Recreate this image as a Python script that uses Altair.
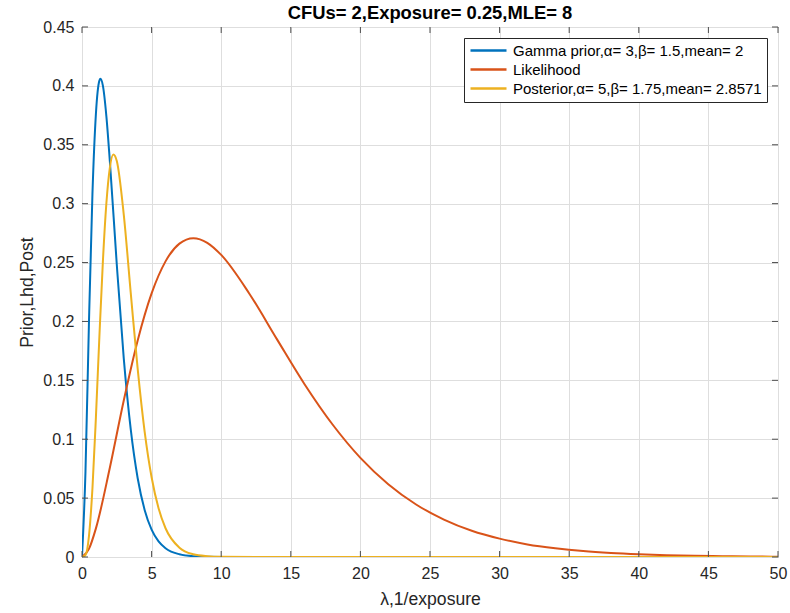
import altair as alt
import pandas as pd

# ---- data ----
prior_x = [0, 0.25, 0.5, 0.75, 1, 1.25, 1.33, 1.5, 1.75, 2, 2.5, 3, 3.5, 4, 4.5, 5, 5.5, 6, 7, 8, 10, 15, 20, 30, 40, 50]
prior_y = [0, 0.0725, 0.1993, 0.3082, 0.3765, 0.4045, 0.4060, 0.4002, 0.3744, 0.3361, 0.2481, 0.1687, 0.1085,
           0.0669, 0.0400, 0.0233, 0.0133, 0.0075, 0.0023, 0.0007, 0.00005, 0, 0, 0, 0, 0]

lik_x = [0, 0.5, 1, 2, 3, 4, 5, 6, 7, 8, 9, 10, 12, 14, 16, 18, 20, 22, 24, 26, 28, 30, 32, 34, 36, 38, 40,
         42, 44, 46, 48, 50]
lik_y = [0, 0.0069, 0.0243, 0.0758, 0.1329, 0.1839, 0.2238, 0.2510, 0.2661, 0.2707, 0.2668, 0.2565, 0.2240,
         0.1850, 0.1465, 0.1125, 0.0842, 0.0618, 0.0446, 0.0318, 0.0223, 0.0156, 0.0107, 0.0074, 0.0050,
         0.0034, 0.0023, 0.0015, 0.0010, 0.0007, 0.0004, 0.0003]

post_x = [0, 0.25, 0.5, 0.75, 1, 1.25, 1.5, 1.75, 2, 2.25, 2.5, 3, 3.5, 4, 4.5, 5, 5.5, 6, 7, 8, 9, 10, 15, 20,
          30, 40, 50]
post_y = [0, 0.0017, 0.0178, 0.0582, 0.1188, 0.1874, 0.2508, 0.3001, 0.3304, 0.3417, 0.3363, 0.2907, 0.2245,
          0.1597, 0.1065, 0.0677, 0.0413, 0.0244, 0.0079, 0.0023, 0.0007, 0.0002, 0, 0, 0, 0, 0]

series_names = ["Gamma prior,α= 3,β= 1.5,mean= 2", "Likelihood", "Posterior,α= 5,β= 1.75,mean= 2.8571"]
series_colors = ["#0072BD", "#D95319", "#EDB120"]

x_ticks = [0, 5, 10, 15, 20, 25, 30, 35, 40, 45, 50]
y_ticks = [0, 0.05, 0.1, 0.15, 0.2, 0.25, 0.3, 0.35, 0.4, 0.45]

title_text = "CFUs= 2,Exposure= 0.25,MLE= 8"
x_title = "λ,1/exposure"
y_title = "Prior,Lhd,Post"

# ---- build ----
W, H = 696, 530
FONT = "Liberation Sans"

frames = []
for name, xs, ys in zip(series_names, [prior_x, lik_x, post_x], [prior_y, lik_y, post_y]):
    frames.append(pd.DataFrame({"x": xs, "y": ys, "series": name}))

xscale = alt.Scale(domain=[0, 50], nice=False, zero=False)
yscale = alt.Scale(domain=[0, 0.45], nice=False)
color = alt.Color("series:N",
                  scale=alt.Scale(domain=series_names, range=series_colors),
                  sort=series_names,
                  legend=alt.Legend(title=None, orient="top-right", offset=11))

xaxis = alt.Axis(values=x_ticks, format="d", title=x_title, grid=True, ticks=False, domain=False,
                 labelPadding=8, titlePadding=9, labelFlush=False, labelOverlap=False)
yaxis = alt.Axis(values=y_ticks, format="~g", title=y_title, grid=True, ticks=False, domain=False,
                 labelPadding=8, titlePadding=6, labelFlush=False, labelOverlap=False)


def X(field):
    return alt.X(field, scale=xscale, axis=xaxis, title=x_title)


def Y(field):
    return alt.Y(field, scale=yscale, axis=yaxis, title=y_title)


layers = []
for df in frames:
    layers.append(
        alt.Chart(df).mark_line(strokeWidth=2, interpolate="monotone", clip=True).encode(
            x=X("x:Q"), y=Y("y:Q"), color=color,
        )
    )

xt = pd.DataFrame({"v": x_ticks})
yt = pd.DataFrame({"v": y_ticks})
TL = 6
tick_style = dict(color="#4d4d4d", strokeWidth=1)
ticks = [
    alt.Chart(xt).mark_rule(**tick_style).encode(x=X("v:Q"), y=alt.value(H), y2=alt.value(H - TL)),
    alt.Chart(xt).mark_rule(**tick_style).encode(x=X("v:Q"), y=alt.value(0), y2=alt.value(TL)),
    alt.Chart(yt).mark_rule(**tick_style).encode(y=Y("v:Q"), x=alt.value(0), x2=alt.value(TL)),
    alt.Chart(yt).mark_rule(**tick_style).encode(y=Y("v:Q"), x=alt.value(W), x2=alt.value(W - TL)),
]

title_layer = alt.Chart(pd.DataFrame({"t": [title_text]})).mark_text(
    font=FONT, fontSize=18.4, fontWeight="bold", color="#000000", align="center", baseline="alphabetic"
).encode(text="t:N", x=alt.value(W / 2), y=alt.value(-8))

chart = alt.layer(*layers, *ticks, title_layer).properties(
    width=W, height=H,
    padding={"left": 82, "top": 27, "right": 12, "bottom": 56},
    autosize=alt.AutoSizeParams(type="none"),
).configure_view(
    stroke="#4d4d4d", strokeWidth=1
).configure_axis(
    labelFont=FONT, titleFont=FONT, labelFontSize=16, titleFontSize=17.6,
    labelColor="#262626", titleColor="#262626", titleFontWeight="normal",
    gridColor="#dedede", gridWidth=1,
).configure_legend(
    labelFont=FONT, labelFontSize=15, labelColor="#000000", labelLimit=400,
    strokeColor="#262626", fillColor="#ffffff", padding=5, cornerRadius=0,
    symbolType="M-3,0H3", symbolSize=144, symbolStrokeWidth=2.5, symbolOffset=12,
    labelOffset=17, rowPadding=3,
)

chart.save("out.html", embed_options={"renderer": "svg", "actions": False})
